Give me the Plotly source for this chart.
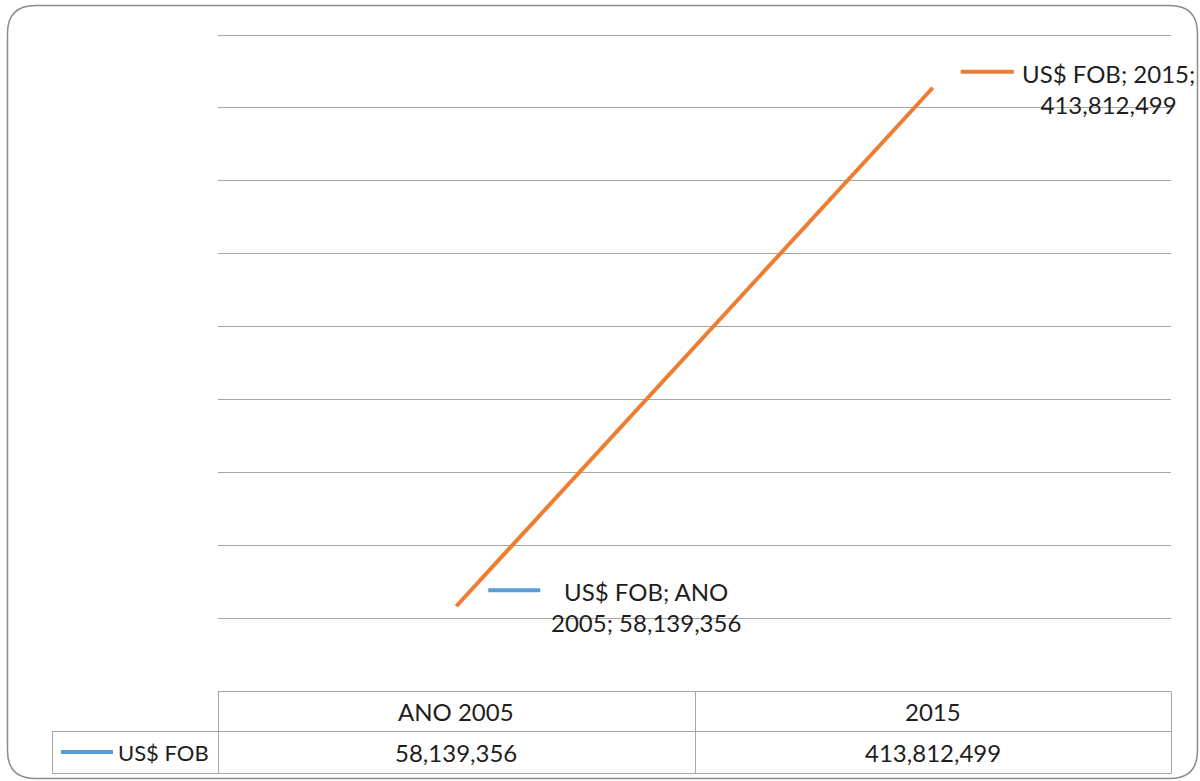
import plotly.graph_objects as go

categories = ["ANO 2005", "2015"]
series_name = "US$ FOB"
values = [58139356, 413812499]
y_ticks = [50e6, 100e6, 150e6, 200e6, 250e6, 300e6, 350e6, 400e6, 450e6]

W, H = 1200, 781
FONT = "Lato"
TXT = "#1e1e1e"
GRID = "#a6a6a6"
ORANGE = "#ED7D31"
BLUE = "#5B9BD5"

def px(x):
    return x / W

def py(y):
    return 1 - y / H

fig = go.Figure()
xs = list(range(len(categories)))
fig.add_trace(go.Scatter(x=xs, y=values, mode="lines", name=series_name,
                         line=dict(color=ORANGE, width=4), showlegend=False,
                         hoverinfo="skip"))

fmt = lambda v: f"{v:,}"
shapes = []
annotations = []

# outer rounded frame
l, t, r, b, rad = 7.5, 5.5, 1197.5, 778.5, 28
path = (f"M {px(l+rad)},{py(t)} L {px(r-rad)},{py(t)} Q {px(r)},{py(t)} {px(r)},{py(t+rad)} "
        f"L {px(r)},{py(b-rad)} Q {px(r)},{py(b)} {px(r-rad)},{py(b)} "
        f"L {px(l+rad)},{py(b)} Q {px(l)},{py(b)} {px(l)},{py(b-rad)} "
        f"L {px(l)},{py(t+rad)} Q {px(l)},{py(t)} {px(l+rad)},{py(t)} Z")
shapes.append(dict(type="path", xref="paper", yref="paper", path=path,
                   line=dict(color="#8c8c8c", width=1.5), layer="below"))

# data table borders
def hline(x0, x1, y):
    shapes.append(dict(type="line", xref="paper", yref="paper", x0=px(x0), x1=px(x1),
                       y0=py(y), y1=py(y), line=dict(color=GRID, width=1)))

def vline(x, y0, y1):
    shapes.append(dict(type="line", xref="paper", yref="paper", x0=px(x), x1=px(x),
                       y0=py(y0), y1=py(y1), line=dict(color=GRID, width=1)))

hline(218, 1171, 691.5)
hline(52, 1171, 731.5)
hline(52, 1171, 773.5)
vline(52.5, 731.5, 773.5)
vline(218.5, 691.5, 773.5)
vline(695.5, 691.5, 773.5)
vline(1171.5, 691.5, 773.5)

# table texts
for i, cat in enumerate(categories):
    annotations.append(dict(xref="x", yref="paper", x=i, y=py(711), text=cat,
                            showarrow=False, xanchor="center", yanchor="middle",
                            font=dict(family=FONT, size=24, color=TXT)))
    annotations.append(dict(xref="x", yref="paper", x=i, y=py(752), text=fmt(values[i]),
                            showarrow=False, xanchor="center", yanchor="middle",
                            font=dict(family=FONT, size=24, color=TXT)))
annotations.append(dict(xref="paper", yref="paper", x=px(211), y=py(752), text=series_name,
                        showarrow=False, xanchor="right", yanchor="middle",
                        font=dict(family=FONT, size=22, color=TXT)))
shapes.append(dict(type="line", xref="paper", yref="paper", x0=px(61), x1=px(113),
                   y0=py(752), y1=py(752), line=dict(color=BLUE, width=4)))

# data labels with legend keys
label_cfg = [
    dict(key_color=BLUE, key=(32, 84, 16), shift=(190, -1),
         text=f"{series_name}; {categories[0].split(' ')[0]}<br>{categories[0].split(' ')[1]}; {fmt(values[0])}"),
    dict(key_color=ORANGE, key=(28, 81, 16), shift=(176, -1),
         text=f"{series_name}; {categories[1]};<br>{fmt(values[1])}"),
]
for i, cfg in enumerate(label_cfg):
    k0, k1, ky = cfg["key"]
    shapes.append(dict(type="line", xref="x", yref="y", xsizemode="pixel", ysizemode="pixel",
                       xanchor=i, yanchor=values[i], x0=k0, x1=k1, y0=ky, y1=ky,
                       line=dict(color=cfg["key_color"], width=4)))
    annotations.append(dict(xref="x", yref="y", x=i, y=values[i], text=cfg["text"],
                            showarrow=False, xanchor="center", yanchor="middle",
                            xshift=cfg["shift"][0], yshift=cfg["shift"][1], align="center",
                            font=dict(family=FONT, size=24, color=TXT)))

fig.update_layout(
    width=W, height=H, margin=dict(l=0, r=0, t=0, b=0),
    paper_bgcolor="white", plot_bgcolor="white",
    xaxis=dict(domain=[px(218), px(1171)], range=[-0.5, 1.5], showgrid=False,
               showticklabels=False, zeroline=False, showline=False, ticks=""),
    yaxis=dict(domain=[py(691), py(34)], range=[0, 450.7e6], tickvals=y_ticks,
               showgrid=True, gridcolor=GRID, gridwidth=1, showticklabels=False,
               zeroline=False, showline=False, ticks=""),
    shapes=shapes, annotations=annotations,
)

fig.write_html("out.html")
